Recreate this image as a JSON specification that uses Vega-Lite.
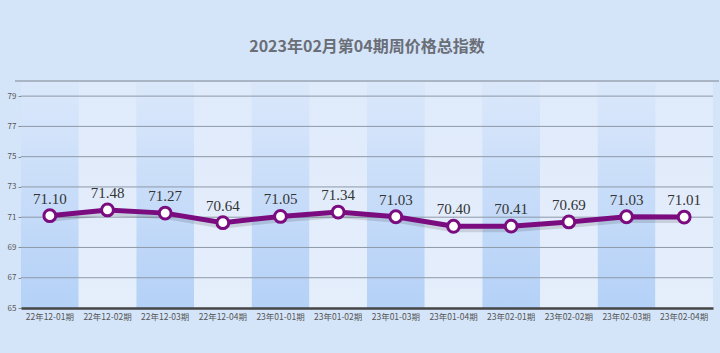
{
  "$schema": "https://vega.github.io/schema/vega-lite/v6.json",
  "autosize": "none",
  "width": 692,
  "height": 227,
  "padding": {"left": 21, "top": 81, "right": 7, "bottom": 45},
  "background": "#d5e5f9",
  "title": {
    "text": "2023年02月第04期周价格总指数",
    "font": "Noto Sans CJK SC",
    "fontSize": 16,
    "fontWeight": "bold",
    "color": "#6a6e77",
    "anchor": "middle",
    "offset": 25
  },
  "datasets": {
    "main": [
      {"period": "22年12-01期", "value": 71.10},
      {"period": "22年12-02期", "value": 71.48},
      {"period": "22年12-03期", "value": 71.27},
      {"period": "22年12-04期", "value": 70.64},
      {"period": "23年01-01期", "value": 71.05},
      {"period": "23年01-02期", "value": 71.34},
      {"period": "23年01-03期", "value": 71.03},
      {"period": "23年01-04期", "value": 70.40},
      {"period": "23年02-01期", "value": 70.41},
      {"period": "23年02-02期", "value": 70.69},
      {"period": "23年02-03期", "value": 71.03},
      {"period": "23年02-04期", "value": 71.01}
    ],
    "grid": [
      {"g": 67}, {"g": 69}, {"g": 71}, {"g": 73}, {"g": 75}, {"g": 77}, {"g": 79}
    ]
  },
  "data": {"name": "main"},
  "transform": [
    {"window": [{"op": "row_number", "as": "idx"}]}
  ],
  "encoding": {
    "x": {
      "field": "period",
      "type": "nominal",
      "sort": ["22年12-01期", "22年12-02期", "22年12-03期", "22年12-04期", "23年01-01期", "23年01-02期", "23年01-03期", "23年01-04期", "23年02-01期", "23年02-02期", "23年02-03期", "23年02-04期"],
      "scale": {"paddingInner": 0, "paddingOuter": 0},
      "axis": {
        "title": null,
        "labelAngle": 0,
        "labelFont": "Noto Sans CJK SC",
        "labelFontSize": 8.5,
        "labelColor": "#555555",
        "labelPadding": 4,
        "ticks": false,
        "domainColor": "#454545",
        "domainWidth": 2.5,
        "grid": false
      }
    },
    "y": {
      "field": "value",
      "type": "quantitative",
      "scale": {"domain": [65, 80], "nice": false, "zero": false},
      "axis": {
        "title": null,
        "values": [65, 67, 69, 71, 73, 75, 77, 79],
        "labelOverlap": false,
        "labelBound": false,
        "labelFont": "Noto Sans CJK SC",
        "labelFontSize": 8,
        "labelColor": "#555555",
        "labelPadding": 2,
        "domain": false,
        "ticks": true,
        "tickSize": 3,
        "tickColor": "#888888",
        "grid": false
      }
    }
  },
  "layer": [
    {
      "transform": [{"filter": "datum.idx % 2 == 1"}],
      "mark": {
        "type": "rect",
        "color": {
          "gradient": "linear", "x1": 0, "y1": 0, "x2": 0, "y2": 1,
          "stops": [
            {"offset": 0, "color": "#dbe8fb"},
            {"offset": 1, "color": "#b4d1f7"}
          ]
        }
      },
      "encoding": {
        "y": {"datum": 80, "type": "quantitative"},
        "y2": {"datum": 65}
      }
    },
    {
      "transform": [{"filter": "datum.idx % 2 == 0"}],
      "mark": {
        "type": "rect",
        "color": {
          "gradient": "linear", "x1": 0, "y1": 0, "x2": 0, "y2": 1,
          "stops": [
            {"offset": 0, "color": "#dfeafb"},
            {"offset": 1, "color": "#e5eefb"}
          ]
        }
      },
      "encoding": {
        "y": {"datum": 80, "type": "quantitative"},
        "y2": {"datum": 65}
      }
    },
    {
      "data": {"name": "grid"},
      "mark": {"type": "rule", "color": "#8e99a7", "strokeWidth": 1},
      "encoding": {
        "x": {"value": 0},
        "x2": {"value": 692},
        "y": {"field": "g", "type": "quantitative"}
      }
    },
    {
      "mark": {"type": "rule", "color": "#a9b5c4", "strokeWidth": 2},
      "encoding": {
        "x": {"value": -6},
        "x2": {"value": 698},
        "y": {"datum": 80, "type": "quantitative"}
      }
    },
    {
      "mark": {"type": "line", "color": "#000000", "opacity": 0.12, "strokeWidth": 6, "yOffset": 3}
    },
    {
      "mark": {"type": "line", "color": "#7a0c80", "strokeWidth": 5}
    },
    {
      "mark": {"type": "point", "filled": true, "fill": "#ffffff", "stroke": "#7a0c80", "strokeWidth": 3, "size": 140, "opacity": 1}
    },
    {
      "mark": {"type": "text", "baseline": "bottom", "dy": -9, "font": "Liberation Serif", "fontSize": 15, "color": "#333333"},
      "encoding": {
        "text": {"field": "value", "type": "quantitative", "format": ".2f"}
      }
    }
  ],
  "config": {
    "view": {"stroke": null}
  }
}
